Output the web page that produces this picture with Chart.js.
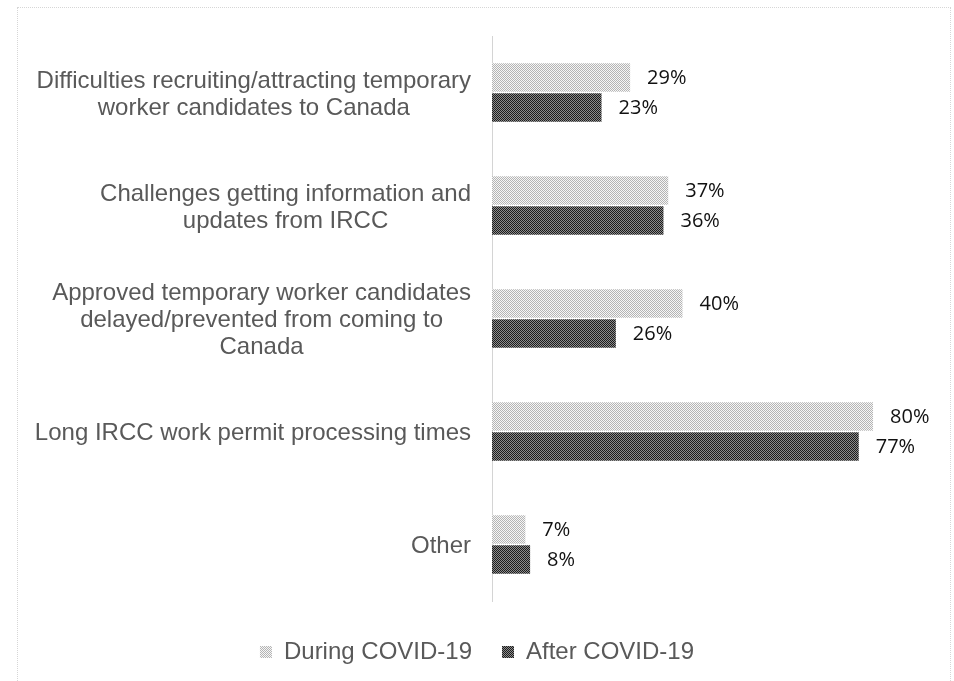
<!DOCTYPE html>
<html>
<head>
<meta charset="utf-8">
<script src="https://cdn.jsdelivr.net/npm/chart.js@4"></script>
<style>
    html, body { margin: 0; padding: 0; background: #fff; }
    #wrap { position: relative; width: 954px; height: 681px; }
    #frame { position: absolute; left: 17px; top: 7px; width: 932px; height: 700px; border: 1px dotted #d6d6d6; pointer-events: none; }
</style>
</head>
<body>
<div id="wrap">
    <canvas id="chart" width="954" height="681"></canvas>
    <div id="frame"></div>
</div>
<script>
const categories = [
    ['Difficulties recruiting/attracting temporary', 'worker candidates to Canada'],
    ['Challenges getting information and', 'updates from IRCC'],
    ['Approved temporary worker candidates', 'delayed/prevented from coming to', 'Canada'],
    ['Long IRCC work permit processing times'],
    ['Other']
];
const duringCovid = [29, 37, 40, 80, 7];
const afterCovid = [23, 36, 26, 77, 8];

// checkered fill like the printed chart
function checker(a, b) {
    const c = document.createElement('canvas');
    c.width = 2;
    c.height = 2;
    const g = c.getContext('2d');
    g.fillStyle = b;
    g.fillRect(0, 0, 2, 2);
    g.fillStyle = a;
    g.fillRect(0, 0, 1, 1);
    g.fillRect(1, 1, 1, 1);
    return g.createPattern(c, 'repeat');
}

const ctx = document.getElementById('chart').getContext('2d');
const lightFill = checker('#b4b4b4', '#f6f6f6');
const darkFill = checker('#1c1c1c', '#8c8c8c');

// category labels: block right aligned, lines centred within the block
const categoryLabels = {
    id: 'categoryLabels',
    afterDraw(chart) {
        const c = chart.ctx;
        const yScale = chart.scales.y;
        const right = chart.chartArea.left - 21;
        const lineH = 27;
        c.save();
        c.font = '24px "Liberation Sans", Arial, sans-serif';
        c.fillStyle = '#595959';
        c.textAlign = 'center';
        c.textBaseline = 'middle';
        categories.forEach((lines, i) => {
            const y = yScale.getPixelForTick(i) + 2;
            const widest = Math.max(...lines.map(l => c.measureText(l).width));
            const cx = right - widest / 2;
            lines.forEach((line, j) => {
                c.fillText(line, cx, y + (j - (lines.length - 1) / 2) * lineH);
            });
        });
        c.restore();
    }
};

const valueLabels = {
    id: 'valueLabels',
    afterDatasetsDraw(chart) {
        const c = chart.ctx;
        c.save();
        c.font = '20px "Open Sans", sans-serif';
        c.fillStyle = '#111';
        c.textAlign = 'left';
        c.textBaseline = 'middle';
        chart.data.datasets.forEach((ds, di) => {
            chart.getDatasetMeta(di).data.forEach((bar, i) => {
                c.fillText(ds.data[i] + '%', bar.x + 17, bar.y + 1);
            });
        });
        c.restore();
    }
};

new Chart(ctx, {
    type: 'bar',
    data: {
        labels: categories,
        datasets: [
            {
                label: 'During COVID-19',
                data: duringCovid,
                backgroundColor: lightFill,
                categoryPercentage: 0.53,
                barPercentage: 0.95
            },
            {
                label: 'After COVID-19',
                data: afterCovid,
                backgroundColor: darkFill,
                categoryPercentage: 0.53,
                barPercentage: 0.95
            }
        ]
    },
    options: {
        indexAxis: 'y',
        responsive: false,
        animation: false,
        layout: { padding: { top: 36, left: 0, right: 0, bottom: 7 } },
        scales: {
            x: {
                min: 0,
                max: 97,
                ticks: { display: false },
                grid: { display: false },
                border: { display: false },
                afterFit(scale) { scale.height = 9; }
            },
            y: {
                ticks: { display: false },
                grid: { display: false },
                border: { display: true, color: '#d4d4d4', dash: [2, 2], width: 1 },
                afterFit(scale) { scale.width = 492; }
            }
        },
        plugins: {
            legend: {
                position: 'bottom',
                labels: {
                    boxWidth: 12,
                    boxHeight: 12,
                    padding: 30,
                    color: '#595959',
                    font: { family: '"Liberation Sans", Arial, sans-serif', size: 24 }
                }
            },
            tooltip: { enabled: false }
        }
    },
    plugins: [categoryLabels, valueLabels]
});
</script>
</body>
</html>
